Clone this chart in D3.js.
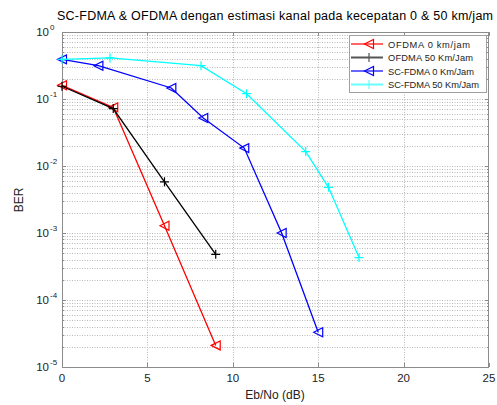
<!DOCTYPE html>
<html>
<head>
<meta charset="utf-8">
<script src="https://cdn.jsdelivr.net/npm/d3@7/dist/d3.min.js"></script>
<style>
  html, body { margin: 0; padding: 0; background: #fff; }
  svg { display: block; font-family: "Liberation Sans", Arial, sans-serif; }
</style>
</head>
<body>
<svg id="chart" width="497" height="405"></svg>
<script>
// Eb/No (dB) and BER for each scheme
const ofdma0X = [0, 3, 6, 9];
const ofdma0Y = [0.16, 0.075, 1.28e-3, 2.1e-5];
const ofdma50X = [0, 3, 6, 9];
const ofdma50Y = [0.155, 0.072, 5.8e-3, 4.8e-4];
const scfdma0X = [0, 2.13, 6.4, 8.27, 10.67, 12.86, 15.0];
const scfdma0Y = [0.39, 0.314, 0.146, 0.052, 0.0185, 1.0e-3, 3.3e-5];
const scfdma50X = [0, 2.81, 8.14, 10.81, 14.27, 15.6, 17.39];
const scfdma50Y = [0.39, 0.41, 0.314, 0.12, 0.0164, 4.8e-3, 4.3e-4];

const seriesNames = ["OFDMA 0 km/jam", "OFDMA 50 Km/Jam", "SC-FDMA 0 Km/Jam", "SC-FDMA 50 Km/Jam"];
const seriesColors = ["#ff0000", "#000000", "#0000ff", "#00ffff"];
const seriesMarkers = ["tri", "plus", "tri", "plus"];
const xTicks = [0, 5, 10, 15, 20, 25];
const yDecades = [-5, -4, -3, -2, -1, 0];

const titleText = "SC-FDMA & OFDMA dengan estimasi kanal pada kecepatan 0 & 50 km/jam";
const xLabel = "Eb/No (dB)";
const yLabel = "BER";

const series = [
  { x: ofdma0X, y: ofdma0Y },
  { x: ofdma50X, y: ofdma50Y },
  { x: scfdma0X, y: scfdma0Y },
  { x: scfdma50X, y: scfdma50Y }
].map((s, i) => ({
  name: seriesNames[i], color: seriesColors[i], marker: seriesMarkers[i],
  points: s.x.map((xv, j) => [xv, s.y[j]])
}));

const L = 62, R = 489, T = 32, B = 367;
const x = d3.scaleLinear().domain([0, 25]).range([L, R]);
const y = d3.scaleLog().domain([1e-5, 1]).range([B, T]);

const svg = d3.select("#chart");

// grid
const grid = svg.append("g").attr("stroke", "#b8b8b8").attr("stroke-width", 1)
  .attr("stroke-dasharray", "1,1.5").attr("fill", "none");
const minorVals = [];
yDecades.forEach(d => {
  if (d < 0) for (let m = 2; m <= 9; m++) minorVals.push(m * Math.pow(10, d));
});
const majorVals = yDecades.map(d => Math.pow(10, d));
[...minorVals, ...majorVals.slice(1, -1)].forEach(v => {
  const yy = Math.round(y(v)) + 0.5;
  grid.append("line").attr("x1", L).attr("x2", R).attr("y1", yy).attr("y2", yy);
});
xTicks.slice(1, -1).forEach(v => {
  const xx = Math.round(x(v)) + 0.5;
  grid.append("line").attr("x1", xx).attr("x2", xx).attr("y1", T).attr("y2", B);
});

// axes box and inward ticks
const frame = svg.append("g").attr("stroke", "#8c8c8c").attr("stroke-width", 1).attr("fill", "none");
frame.append("rect").attr("x", L + 0.5).attr("y", T + 0.5).attr("width", R - L - 1).attr("height", B - T);
xTicks.forEach(v => {
  const xx = Math.round(x(v)) + 0.5;
  frame.append("line").attr("x1", xx).attr("x2", xx).attr("y1", B).attr("y2", B - 4);
  frame.append("line").attr("x1", xx).attr("x2", xx).attr("y1", T).attr("y2", T + 4);
});
majorVals.forEach(v => {
  const yy = Math.round(y(v)) + 0.5;
  frame.append("line").attr("x1", L).attr("x2", L + 4).attr("y1", yy).attr("y2", yy);
  frame.append("line").attr("x1", R).attr("x2", R - 4).attr("y1", yy).attr("y2", yy);
});
minorVals.forEach(v => {
  const yy = Math.round(y(v)) + 0.5;
  frame.append("line").attr("x1", L).attr("x2", L + 2).attr("y1", yy).attr("y2", yy);
  frame.append("line").attr("x1", R).attr("x2", R - 2).attr("y1", yy).attr("y2", yy);
});

// tick labels
const tl = svg.append("g").attr("fill", "#222");
xTicks.forEach(v => {
  tl.append("text").attr("x", x(v)).attr("y", 382).attr("text-anchor", "middle")
    .attr("font-size", 11.5).text(v);
});
yDecades.forEach(d => {
  const yy = y(Math.pow(10, d));
  tl.append("text").attr("x", 49).attr("y", yy + 4).attr("text-anchor", "end")
    .attr("font-size", 11.5).text("10");
  tl.append("text").attr("x", 50).attr("y", yy - 2).attr("text-anchor", "start")
    .attr("font-size", 8).text(d === 0 ? "0" : "-" + Math.abs(d));
});

// axis titles and chart title
svg.append("text").attr("x", 275).attr("y", 399).attr("text-anchor", "middle")
  .attr("font-size", 12).attr("fill", "#222").text(xLabel);
svg.append("text").attr("transform", "translate(23,200) rotate(-90)").attr("text-anchor", "middle")
  .attr("font-size", 12).attr("fill", "#222").text(yLabel);
svg.append("text").attr("x", 57).attr("y", 20).attr("font-size", 12.5).attr("fill", "#000")
  .attr("textLength", 436).attr("lengthAdjust", "spacing").text(titleText);

// markers: left-pointing open triangle or plus sign
function drawMarker(g, type, cx, cy, color) {
  const s = 4.5;
  const d = type === "tri"
    ? `M${cx - s},${cy} L${cx + s},${cy - s} L${cx + s},${cy + s} Z`
    : `M${cx - s},${cy} H${cx + s} M${cx},${cy - s} V${cy + s}`;
  g.append("path").attr("d", d).attr("fill", "none")
    .attr("stroke", color).attr("stroke-width", 1.2);
}

// series lines and markers
const line = d3.line().x(d => x(d[0])).y(d => y(d[1]));
series.forEach(s => {
  const g = svg.append("g");
  g.append("path").datum(s.points).attr("d", line).attr("fill", "none")
    .attr("stroke", s.color).attr("stroke-width", 1.3);
  s.points.forEach(p => drawMarker(g, s.marker, x(p[0]), y(p[1]), s.color));
});

// legend
const lg = svg.append("g");
lg.append("rect").attr("x", 349.5).attr("y", 35.5).attr("width", 137).attr("height", 57)
  .attr("fill", "#fff").attr("stroke", "#a0a0a0");
const legendLine = ["#ff0000", "#555555", "#0000ff", "#66ffff"];
const legendWidth = [1.2, 2, 1.2, 2];
const legendTextLen = [82, 85, 86, 91];
series.forEach((s, i) => {
  const yy = 44 + i * 13.5;
  lg.append("line").attr("x1", 351).attr("x2", 383).attr("y1", yy).attr("y2", yy)
    .attr("stroke", legendLine[i]).attr("stroke-width", legendWidth[i]);
  drawMarker(lg, s.marker, 369, yy, legendLine[i]);
  lg.append("text").attr("x", 388).attr("y", yy + 3.5).attr("font-size", 9.3).attr("fill", "#222")
    .attr("textLength", legendTextLen[i]).attr("lengthAdjust", "spacing")
    .text(s.name);
});
</script>
</body>
</html>
